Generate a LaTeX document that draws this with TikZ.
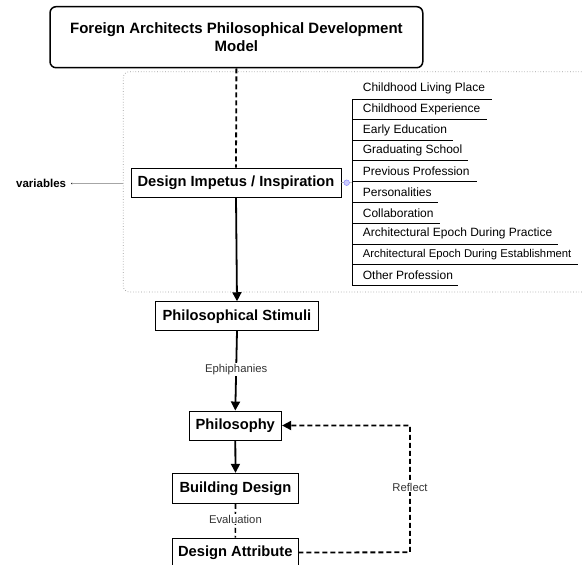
\documentclass[tikz,border=0pt]{standalone}
\usepackage{fontspec}
\setmainfont{Liberation Sans}
\usetikzlibrary{arrows.meta}
\begin{document}
\begin{tikzpicture}[x=1pt,y=-1pt,
  box/.style={draw,line width=0.9pt,font=\bfseries\fontsize{14.7}{17}\selectfont,inner sep=0pt,minimum height=29pt},
  item/.style={anchor=west,font=\fontsize{12}{14}\selectfont,inner sep=0pt},
  lbl/.style={fill=white,font=\fontsize{11.3}{13}\selectfont,inner sep=1pt,text=black!80},
  arr/.style={line width=1.8pt,-{Triangle[length=9pt,width=9pt]}},
  dsh/.style={line width=1.8pt,dash pattern=on 5pt off 3pt}]
\useasboundingbox (0,0) rectangle (582,565);
% dotted group frame
\draw[gray!80,line width=0.7pt,dotted,rounded corners=6pt] (590,292) -- (123.3,292) -- (123.3,71.7) -- (590,71.7);
% title
\node[draw,line width=1.5pt,rounded corners=6pt,minimum width=372.7pt,minimum height=61pt,align=center,
  font=\bfseries\fontsize{15}{17.7}\selectfont,inner sep=0pt] (title) at (236.4,37.2)
  {Foreign Architects Philosophical Development\\Model};
% main boxes
\node[box,minimum width=210pt] (imp) at (236,182.5) {Design Impetus / Inspiration};
\node[box,minimum width=162.6pt] (stim) at (237,316.2) {Philosophical Stimuli};
\node[box,minimum width=92.7pt] (phil) at (235.3,425.5) {Philosophy};
\node[box,minimum width=125.6pt,minimum height=30pt] (bd) at (235.5,488.3) {Building Design};
\node[box,minimum width=125.3pt] (da) at (235.3,552.5) {Design Attribute};
% variables
\node[font=\bfseries\fontsize{11.5}{13}\selectfont,anchor=west,inner sep=0pt] (var) at (16,183) {variables};
\fill (72,183.5) circle (0.9pt) coordinate (vdot);
\coordinate (vend) at (123.3,183.5);
\draw[gray!70,line width=0.6pt] (vdot) -- (vend);
% list
\coordinate (bus) at (352,182.7);
\coordinate (bustop) at (352,99);
\coordinate (busbot) at (352,285);
\draw[gray!70,line width=0.6pt] (imp.east) -- (bus);
\draw[fill=blue!20,draw=blue!45,line width=0.5pt] (346.7,182.7) circle (2.8pt) coordinate (circ);
\draw[line width=0.8pt] (bustop) -- (busbot);
\foreach \t/\y/\r/\fs [count=\i] in {
  Childhood Living Place/99/491.7/12,
  Childhood Experience/119.3/486.7/12,
  Early Education/140.3/452.7/12,
  Graduating School/160.7/467.7/12,
  Previous Profession/181.7/476.7/12,
  Personalities/202.3/437.7/12,
  Collaboration/223.3/440/12,
  Architectural Epoch During Practice/244/558/12,
  Architectural Epoch During Establishment/264.3/577.7/11.3,
  Other Profession/285/458.3/12}{
  \node[item,font=\fontsize{\fs}{14}\selectfont] (it\i) at (362.7,\y-10.2) {\t};
  \draw[line width=0.8pt] (352,\y) -- (\r,\y);
}
% connectors
\draw[dsh] (title.south) -- (imp.north);
\draw[arr] (imp.south) -- (stim.north);
\draw[arr] (stim.south) -- node[lbl,pos=0.48] (eph) {Ephiphanies} (phil.north);
\draw[arr] (phil.south) -- (bd.north);
\draw[dsh,line width=1.6pt] (bd.south) -- node[lbl,pos=0.45] (ev) {Evaluation} (da.north);
\coordinate (rc1) at (410,552.3);
\coordinate (rc2) at (410,425.5);
\draw[dsh,-{Triangle[length=9pt,width=9pt]}] (da.east) -- (rc1) -- node[lbl,pos=0.515] (refl) {Reflect} (rc2) -- (phil.east);
\end{tikzpicture}
\end{document}
